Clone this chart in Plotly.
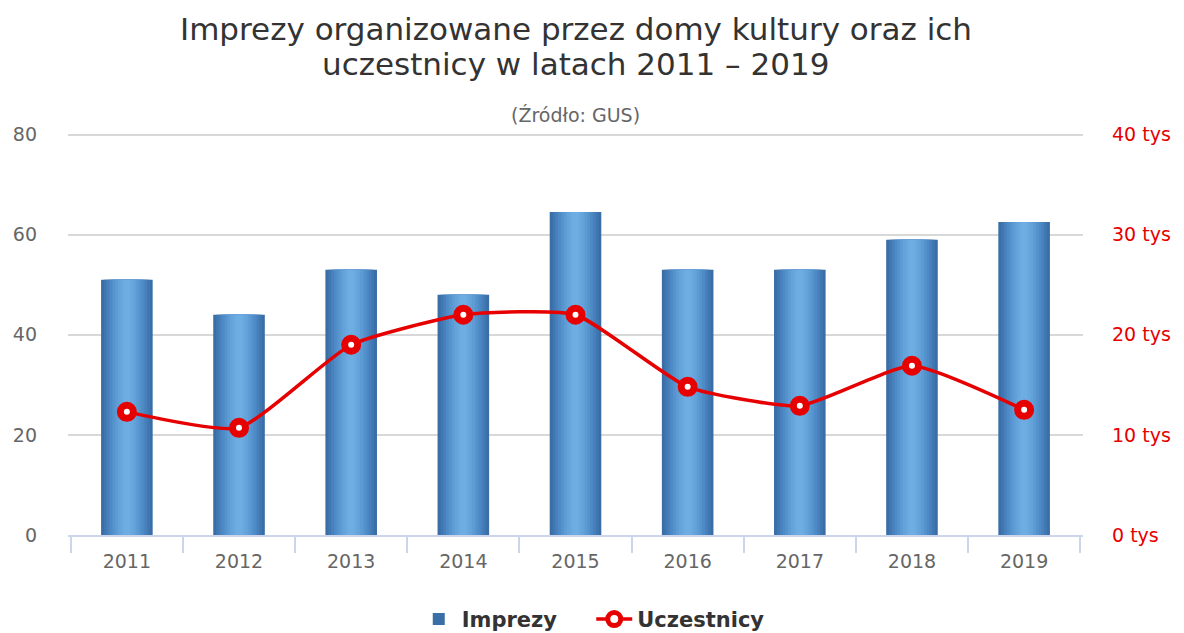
import plotly.graph_objects as go

years = ["2011", "2012", "2013", "2014", "2015", "2016", "2017", "2018", "2019"]
imprezy = [51, 44, 53, 48, 64.5, 53, 53, 59, 62.5]
uczestnicy = [12.3, 10.7, 19.0, 22.0, 22.0, 14.8, 12.9, 16.9, 12.5]

left_ticks = [0, 20, 40, 60, 80]
right_ticks = [0, 10, 20, 30, 40]
right_labels = ["0 tys", "10 tys", "20 tys", "30 tys", "40 tys"]

title_lines = ["Imprezy organizowane przez domy kultury oraz ich",
               "uczestnicy w latach 2011 – 2019"]
subtitle = "(Źródło: GUS)"

FONT = "DejaVu Sans"
PT, PB, PL, PR = 133, 535.5, 68, 1083   # plot area in px
H = PB - PT


def py(px):
    return (PB - px) / H


fig = go.Figure()

layers = [
    (0.46, "#3a6ea7"),
    (0.41, "#4077b2"),
    (0.36, "#4781bc"),
    (0.31, "#4e8ac5"),
    (0.26, "#5593cd"),
    (0.21, "#5c9bd4"),
    (0.16, "#63a2da"),
    (0.11, "#69a8de"),
    (0.06, "#6eade1"),
]
for i, (w, c) in enumerate(layers):
    fig.add_trace(go.Bar(
        x=years, y=imprezy, width=w, name="Imprezy\u00a0\u00a0\u00a0\u00a0",
        marker=dict(color=c, line=dict(width=0)),
        showlegend=(i == 0), legendgroup="imp",
        yaxis="y", hoverinfo="skip" if i else None,
    ))

fig.add_trace(go.Scatter(
    x=years, y=uczestnicy, name="Uczestnicy", yaxis="y2",
    mode="lines+markers",
    line=dict(color="#e60000", width=3.5, shape="spline", smoothing=0.5),
    marker=dict(symbol="circle", size=13, color="white",
                line=dict(color="#e60000", width=7)),
))

annotations = [
    dict(text=title_lines[0], x=0.5, xref="paper", y=py(29), yref="paper",
         yanchor="middle", showarrow=False,
         font=dict(family=FONT, size=31, color="#333333")),
    dict(text=title_lines[1], x=0.5, xref="paper", y=py(64), yref="paper",
         yanchor="middle", showarrow=False,
         font=dict(family=FONT, size=31, color="#333333")),
    dict(text=subtitle, x=0.5, xref="paper", y=py(115), yref="paper",
         yanchor="middle", showarrow=False,
         font=dict(family=FONT, size=19, color="#666666")),
]

fig.update_layout(
    width=1184, height=633,
    margin=dict(l=PL, r=1184 - PR, t=PT, b=633 - PB, autoexpand=False),
    paper_bgcolor="white", plot_bgcolor="white",
    barmode="overlay",
    font=dict(family=FONT, color="#666666", size=19),
    xaxis=dict(
        type="category", tickson="boundaries", ticks="outside",
        ticklen=16, tickwidth=1.5, tickcolor="#ccd6eb",
        showline=True, linecolor="#ccd6eb", linewidth=1.5,
        showgrid=False, tickfont=dict(size=19, color="#666666"),
        ticklabelstandoff=8, automargin=False,
    ),
    yaxis=dict(
        range=[0, 80.3], tickmode="array", tickvals=left_ticks, showgrid=True,
        gridcolor="#d8d8d8", gridwidth=1.5, zeroline=False, showline=False,
        tickfont=dict(size=19, color="#666666"), ticklabelstandoff=30,
        automargin=False,
    ),
    yaxis2=dict(
        range=[0, 40.15], tickmode="array", tickvals=right_ticks,
        ticktext=right_labels, overlaying="y",
        side="right", showgrid=False, zeroline=False, showline=False,
        tickfont=dict(size=19, color="#e60000"),
        ticklabelstandoff=28, automargin=False,
    ),
    legend=dict(
        orientation="h", x=0.517, xanchor="center", y=py(620), yanchor="middle",
        font=dict(family=FONT, size=21, color="#333333", weight="bold"),
        traceorder="normal", itemwidth=36,
    ),
    annotations=annotations,
)

fig.write_html("out.html", config={"displayModeBar": False},
               post_script="document.body.style.margin='0';document.body.style.overflow='hidden';")
